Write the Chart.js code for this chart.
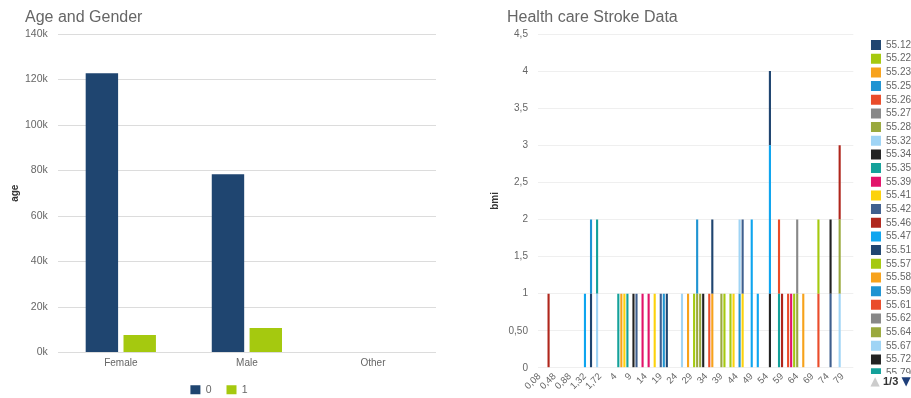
<!DOCTYPE html>
<html>
<head>
<meta charset="utf-8">
<script src="https://cdn.jsdelivr.net/npm/chart.js@4.4.0/dist/chart.umd.min.js"></script>
<style>
  body { margin: 0; background: #fff; }
  #wrap { position: relative; width: 911px; height: 398px; overflow: hidden; }
  .title { position: absolute; top: 9px; font: 16px/16px "Liberation Sans", Arial, sans-serif; color: #666; white-space: nowrap; }
  #leftBox { position: absolute; left: 0; top: 0; width: 443px; height: 398px; }
  #rightBox { position: absolute; left: 443px; top: 0; width: 468px; height: 398px; }
</style>
</head>
<body>
<div id="wrap">
  <div id="leftBox"><canvas id="ageChart" width="443" height="398"></canvas></div>
  <div id="rightBox"><canvas id="strokeChart" width="468" height="398"></canvas></div>
  <div class="title" style="left:25px">Age and Gender</div>
  <div class="title" style="left:507px">Health care Stroke Data</div>
</div>
<script>
// left chart: summed age per gender, split by stroke (0 / 1)
const genders = ['Female', 'Male', 'Other'];
const ageNoStroke = [122700, 78400, 0];
const ageWithStroke = [7700, 10800, 0];
const ageTicks = ['0k', '20k', '40k', '60k', '80k', '100k', '120k', '140k'];

// right chart: age categories on x, one series per bmi value
const ages = [0.08, 0.16, 0.24, 0.32, 0.4, 0.48, 0.56, 0.64, 0.72, 0.8, 0.88, 1, 1.08, 1.16, 1.24, 1.32, 1.4, 1.48, 1.56, 1.64, 1.72, 1.8, 1.88,
  2, 3, 4, 5, 6, 7, 8, 9, 10, 11, 12, 13, 14, 15, 16, 17, 18, 19, 20, 21, 22, 23, 24, 25, 26, 27, 28, 29, 30, 31, 32,
  33, 34, 35, 36, 37, 38, 39, 40, 41, 42, 43, 44, 45, 46, 47, 48, 49, 50, 51, 52, 53, 54, 55, 56, 57, 58, 59, 60, 61,
  62, 63, 64, 65, 66, 67, 68, 69, 70, 71, 72, 73, 74, 75, 76, 77, 78, 79, 80, 81, 82];
const bmiValues = ['55.12', '55.22', '55.23', '55.25', '55.26', '55.27', '55.28', '55.32', '55.34', '55.35', '55.39', '55.41',
  '55.42', '55.46', '55.47', '55.51', '55.57', '55.58', '55.59', '55.61', '55.62', '55.64', '55.67', '55.72', '55.79',
  '55.8', '55.83', '55.85', '55.87', '55.9', '55.93', '55.94', '55.96', '56', '56.01', '56.03', '56.06', '56.1', '56.12',
  '56.14', '56.17', '56.2', '56.22', '56.26', '56.28', '56.3', '56.32', '56.35', '56.38', '56.4', '56.43', '56.46', '56.5',
  '56.52', '56.55', '56.58', '56.6', '56.63', '56.66', '56.7'];
// each entry: which bmi series, at which age, how many
const segSeries = [13, 29, 15, 18, 7, 24, 39, 2, 11, 54, 23, 12, 10, 25, 26, 27, 3, 0, 22, 17, 1, 21, 33, 36, 38, 49, 32, 45,
  21, 16, 31, 41, 48, 52, 56, 57, 44, 59, 8, 14, 30, 9, 19, 28, 34, 40, 46, 6, 20, 47, 4, 16, 42, 53, 37, 51, 58];
const segAge = [0.32, 1.32, 1.48, 1.48, 1.64, 1.64, 5, 6, 7, 8, 10, 11, 13, 15, 17, 19, 20, 21, 26, 28, 30, 31, 31, 32, 33, 35,
  36, 36, 39, 40, 42, 43, 45, 45, 46, 46, 49, 51, 55, 55, 55, 58, 58, 59, 61, 62, 63, 64, 64, 66, 71, 71, 75, 75, 78, 78, 78];
const segCount = [1, 1, 1, 1, 1, 1, 1, 1, 1, 1, 1, 1, 1, 1, 1, 1, 1, 1, 1, 1, 1, 1, 1, 1, 1, 1,
  1, 1, 1, 1, 1, 1, 1, 1, 1, 1, 2, 1, 1, 2, 1, 1, 1, 1, 1, 1, 1, 1, 1, 1, 1, 1, 1, 1, 1, 1, 1];
const bmiTicks = ['0', '0,50', '1', '1,5', '2', '2,5', '3', '3,5', '4', '4,5'];

const palette = ['#1f4570', '#a5c90f', '#f7a21b', '#1f94d2', '#ea4c2a', '#888888', '#9aa93e', '#9fd4f5',
  '#222222', '#14a19a', '#e2136a', '#fcd20c', '#3f5f8e', '#b0261c', '#0ea5ef'];

Chart.defaults.font.family = '"Liberation Sans", Arial, sans-serif';
Chart.defaults.color = '#666';
Chart.defaults.animation = false;

new Chart(document.getElementById('ageChart'), {
  type: 'bar',
  data: {
    labels: genders,
    datasets: [
      { label: '0', data: ageNoStroke, backgroundColor: palette[0] },
      { label: '1', data: ageWithStroke, backgroundColor: palette[1] }
    ]
  },
  options: {
    responsive: false,
    layout: { padding: { left: 2, right: 7, top: 34, bottom: -7 } },
    datasets: { bar: { categoryPercentage: 0.6, barPercentage: 0.857, borderWidth: 0 } },
    plugins: {
      legend: {
        position: 'bottom',
        labels: { boxWidth: 10, boxHeight: 9, padding: 15, font: { size: 10.5 }, color: '#666' }
      },
      tooltip: { enabled: false }
    },
    scales: {
      x: {
        grid: { display: false, drawTicks: false },
        border: { display: false },
        ticks: { padding: 5, font: { size: 10 } },
        afterFit: (s) => { s.height = 17; }
      },
      y: {
        min: 0,
        max: 140000,
        ticks: { stepSize: 20000, padding: 10, font: { size: 10.5 }, callback: (v, i) => ageTicks[i] },
        grid: { color: '#dcdcdc', drawTicks: false },
        border: { display: false },
        title: { display: true, text: 'age', color: '#333', font: { size: 10, weight: 'bold' }, padding: { top: 7, bottom: -6 } }
      }
    }
  }
});

// build one stacked dataset per bmi value
const strokeSets = bmiValues.map((bmi, d) => {
  const data = ages.map(() => null);
  segSeries.forEach((s, k) => {
    if (s === d) data[ages.indexOf(segAge[k])] = segCount[k];
  });
  return { label: bmi, data: data, backgroundColor: palette[d % palette.length] };
});

// legend shows page 1 of 3, draw the pager under it
const legendPager = {
  id: 'legendPager',
  afterDraw(chart) {
    const ctx = chart.ctx;
    const lg = chart.legend;
    ctx.save();
    ctx.fillStyle = '#fff';
    ctx.fillRect(lg.left, 374, lg.width + 20, 24);
    ctx.textBaseline = 'middle';
    ctx.textAlign = 'center';
    ctx.font = '12px "DejaVu Sans"';
    ctx.fillStyle = '#cccccc';
    ctx.fillText('\u25B2', 432, 382);
    ctx.fillStyle = '#1f3f7a';
    ctx.fillText('\u25BC', 463, 382);
    ctx.textAlign = 'left';
    ctx.font = 'bold 11px "Liberation Sans"';
    ctx.fillStyle = '#333';
    ctx.fillText('1/3', 440, 382);
    ctx.restore();
  }
};

new Chart(document.getElementById('strokeChart'), {
  type: 'bar',
  data: { labels: ages, datasets: strokeSets },
  plugins: [legendPager],
  options: {
    responsive: false,
    layout: { padding: { left: 46, right: -10, top: 34, bottom: 3 } },
    datasets: { bar: { categoryPercentage: 1, barPercentage: 0.7, borderWidth: 0 } },
    plugins: {
      legend: {
        position: 'right',
        align: 'start',
        title: { display: true, text: ' ', padding: 0, font: { size: 2 } },
        labels: {
          boxWidth: 10, boxHeight: 10, padding: 3.67, font: { size: 10 }, color: '#666',
          filter: (item) => item.datasetIndex < 25
        }
      },
      tooltip: { enabled: false }
    },
    scales: {
      x: {
        stacked: true,
        grid: { display: false, drawTicks: false },
        border: { display: false },
        ticks: {
          autoSkip: false, minRotation: 45, maxRotation: 45, padding: 3, font: { size: 9.5 },
          callback: (v, i) => (i % 5 === 0 ? String(ages[i]).replace('.', ',') : '')
        }
      },
      y: {
        stacked: true,
        min: 0,
        max: 4.5,
        ticks: { stepSize: 0.5, padding: 10, font: { size: 10 }, callback: (v, i) => bmiTicks[i] },
        grid: { color: '#efefef', drawTicks: false },
        border: { display: false },
        title: { display: true, text: 'bmi', color: '#333', font: { size: 10, weight: 'bold' }, padding: { top: 0, bottom: -2.5 } }
      },
      gap: {
        type: 'linear',
        position: 'right',
        grid: { display: false },
        border: { display: false },
        ticks: { display: false },
        afterFit: (s) => { s.width = 14; }
      }
    }
  }
});
</script>
</body>
</html>
